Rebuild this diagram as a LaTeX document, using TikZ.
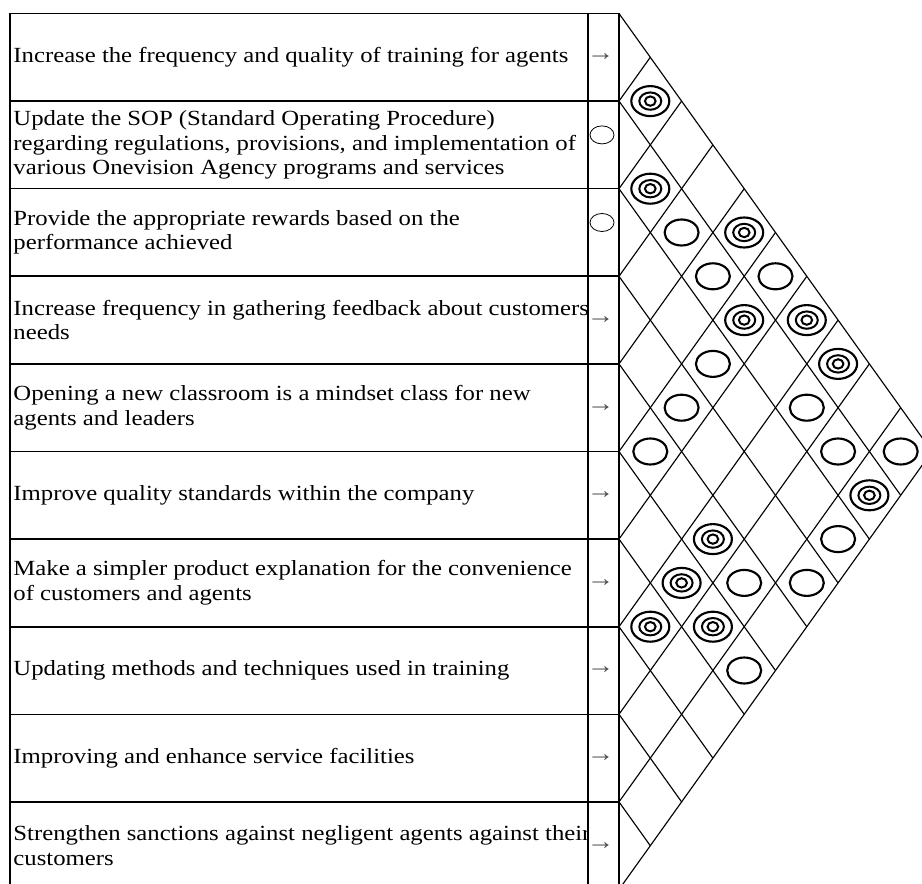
\documentclass[tikz,border=0pt]{standalone}
\usepackage{fontspec}
\setmainfont{Liberation Serif}[FakeStretch=1.145]
\usetikzlibrary{shapes.geometric}

\definecolor{arrowgray}{gray}{0.3}

\tikzset{
  need/.style={anchor=west, align=left, inner xsep=2.4pt, inner ysep=0pt,
    font=\fontsize{16.2pt}{18.4pt}\selectfont},
  tablerule/.style={line width=1.2pt},
  roofline/.style={line width=0.85pt},
  improve/.style={text=arrowgray, inner sep=0pt, font=\fontsize{18pt}{18pt}\selectfont},
  target/.style={draw, ellipse, line width=0.6pt, inner sep=0pt,
    minimum width=18pt, minimum height=13.5pt},
  medium/.style={draw, ellipse, line width=1.6pt, inner sep=0pt,
    minimum width=25.5pt, minimum height=19.5pt},
  strong/.style={draw, ellipse, line width=1.6pt, inner sep=0pt,
    minimum width=28.5pt, minimum height=22.5pt},
  ring/.style={draw, ellipse, line width=1.5pt, inner sep=0pt}
}

\begin{document}
\begin{tikzpicture}[x=0.75pt,y=-0.75pt]
  \useasboundingbox (0,0) rectangle (922,884);
  \clip (0,0) rectangle (922,884);

  % requirements
  \begin{scope}
    \clip (10,13.5) rectangle (588,890);
    \node[need] (r1) at (10,57.3) {Increase the frequency and quality of training for agents};
    \node[need] (r2) at (10,144.9) {Update the SOP (Standard Operating Procedure)\\regarding regulations, provisions, and implementation of\\various Onevision Agency programs and services};
    \node[need] (r3) at (10,232.5) {Provide the appropriate rewards based on the\\performance achieved};
    \node[need] (r4) at (10,320.1) {Increase frequency in gathering feedback about customers\\needs};
    \node[need] (r5) at (10,407.7) {Opening a new classroom is a mindset class for new\\agents and leaders};
    \node[need] (r6) at (10,495.3) {Improve quality standards within the company};
    \node[need] (r7) at (10,582.9) {Make a simpler product explanation for the convenience\\of customers and agents};
    \node[need] (r8) at (10,670.5) {Updating methods and techniques used in training};
    \node[need] (r9) at (10,758.1) {Improving and enhance service facilities};
    \node[need] (r10) at (10,845.7) {Strengthen sanctions against negligent agents against their\\customers};
  \end{scope}

  % table
  \draw[tablerule] (10,13.5) rectangle (619,890);
  \foreach \k in {1,...,9}
    \draw[tablerule] (10,{13.5+87.6*\k}) -- (619,{13.5+87.6*\k});
  \draw[tablerule] (588,13.5) -- (588,890);

  % direction of improvement
  \foreach \k in {1,4,5,...,10}
    \node[improve] (d\k) at (600.5,{13.5+87.6*(\k-0.5)}) {→};
  \foreach \k in {2,3}
    \node[target] (d\k) at (602,{13.5+87.6*(\k-0.5)-10}) {};

  % roof
  \begin{scope}[shift={(619,13.5)}, x={(23.475pt,0pt)}, y={(0pt,-32.85pt)}]
    \foreach \a in {0,...,9}
      \draw[roofline] (0,{2*\a}) -- ({10-\a},{10+\a});
    \foreach \b in {1,...,10}
      \draw[roofline] (0,{2*\b}) -- (\b,\b);

    \foreach \i/\j in {2/4,2/5,1/6,3/6,4/6,5/6,2/8,2/9,1/10,3/10,5/9,4/10,6/10}
      \node[medium] (m\i-\j) at ({\j-\i},{\i+\j-1}) {};

    \foreach \i/\j in {1/2,2/3,1/5,2/6,1/7,1/8,2/10,5/8,6/8,7/8,6/9} {
      \node[strong] (s\i-\j) at ({\j-\i},{\i+\j-1}) {};
      \node[ring, minimum width=16.5pt, minimum height=13pt] (s\i-\j-mid) at (s\i-\j) {};
      \node[ring, minimum width=8pt, minimum height=7pt] (s\i-\j-in) at (s\i-\j) {};
    }
  \end{scope}
\end{tikzpicture}
\end{document}
